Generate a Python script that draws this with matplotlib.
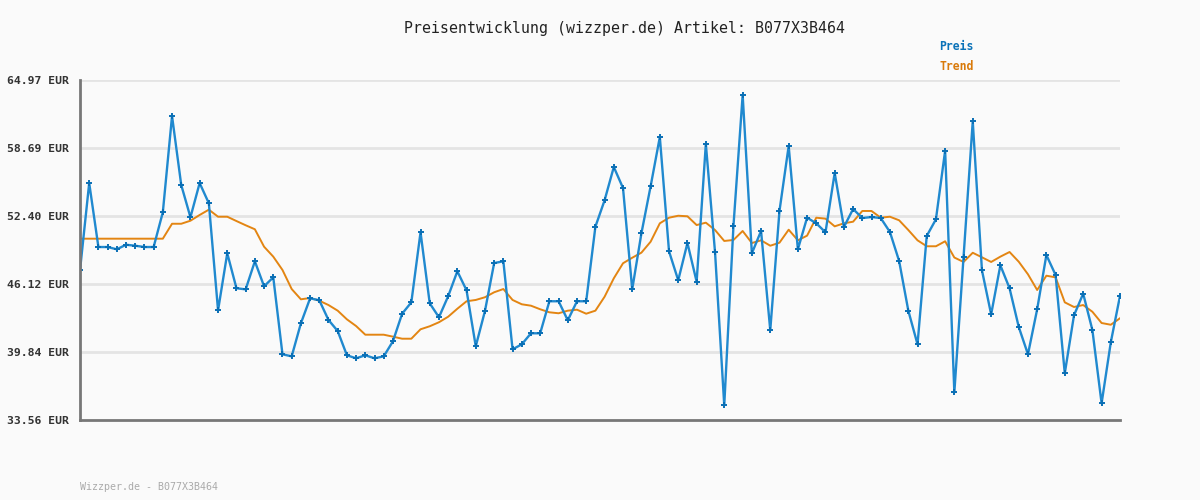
import numpy as np
import matplotlib
matplotlib.use("Agg")
import matplotlib.pyplot as plt

# Preisverlauf (EUR)
preis = [47.39, 55.45, 49.54, 49.54, 49.33, 49.75, 49.66, 49.54, 49.54, 52.75,
         61.64, 55.27, 52.29, 55.45, 53.58, 43.69, 48.96, 45.73, 45.63, 48.22,
         45.91, 46.74, 39.63, 39.44, 42.49, 44.80, 44.62, 42.80, 41.78, 39.54,
         39.26, 39.54, 39.26, 39.44, 40.83, 43.38, 44.43, 50.90, 44.34, 43.05,
         44.99, 47.30, 45.54, 40.37, 43.63, 48.06, 48.22, 40.09, 40.55, 41.57,
         41.57, 44.53, 44.53, 42.77, 44.53, 44.53, 51.42, 53.86, 56.93, 54.99,
         45.63, 50.81, 55.15, 59.70, 49.14, 46.47, 49.91, 46.34, 59.06, 49.05,
         34.92, 51.48, 63.58, 48.96, 51.02, 41.85, 52.87, 58.87, 49.33, 52.25,
         51.73, 50.90, 56.38, 51.39, 53.05, 52.22, 52.31, 52.22, 50.93, 48.25,
         43.66, 40.55, 50.56, 52.10, 58.44, 36.12, 48.60, 61.15, 47.39, 43.32,
         47.85, 45.73, 42.15, 39.63, 43.79, 48.80, 46.96, 37.87, 43.23, 45.23,
         41.87, 35.10, 40.74, 45.02]

trend = [50.31, 50.31, 50.31, 50.31, 50.31, 50.31, 50.31, 50.31, 50.31, 50.31,
         51.69, 51.69, 51.97, 52.50, 52.99, 52.34, 52.34, 51.94, 51.55, 51.18,
         49.57, 48.65, 47.42, 45.66, 44.71, 44.83, 44.58, 44.18, 43.66, 42.86,
         42.24, 41.44, 41.44, 41.44, 41.26, 41.07, 41.07, 41.94, 42.22, 42.59,
         43.10, 43.84, 44.53, 44.65, 44.90, 45.36, 45.66, 44.65, 44.25, 44.12,
         43.79, 43.51, 43.42, 43.66, 43.75, 43.38, 43.66, 44.95, 46.65, 48.04,
         48.55, 49.02, 50.03, 51.73, 52.25, 52.43, 52.38, 51.57, 51.79, 51.11,
         50.10, 50.19, 51.02, 49.91, 50.16, 49.66, 49.94, 51.14, 50.16, 50.59,
         52.25, 52.16, 51.45, 51.73, 51.88, 52.87, 52.87, 52.25, 52.34, 52.01,
         51.11, 50.16, 49.61, 49.61, 50.07, 48.57, 48.16, 49.01, 48.59, 48.16,
         48.65, 49.08, 48.18, 47.02, 45.57, 46.89, 46.74, 44.43, 44.00, 44.18,
         43.56, 42.52, 42.36, 42.96]

y_ticks = [33.56, 39.84, 46.12, 52.40, 58.69, 64.97]
y_labels = [f"{v:.2f} EUR" for v in y_ticks]

titel = "Preisentwicklung (wizzper.de) Artikel: B077X3B464"
fusszeile = "Wizzper.de - B077X3B464"

MONO = "DejaVu Sans Mono"
BG = "#fafafa"
BLAU = "#2089cf"
ORANGE = "#e38512"

fig = plt.figure(figsize=(12, 5), dpi=100, facecolor=BG)
ax = fig.add_axes([80 / 1200, 80 / 500, 1040 / 1200, 340 / 500])
ax.set_facecolor(BG)

x = np.arange(len(preis))
ax.plot(x, trend, color=ORANGE, lw=1.4, zorder=3)
ax.plot(x, preis, color=BLAU, lw=1.7, marker="+", ms=4, mew=1.4,
        mec="#0a6fb5", zorder=4)

ax.set_xlim(0, len(preis) - 1)
ax.set_ylim(y_ticks[0], y_ticks[-1])
ax.set_xticks([])
ax.set_yticks(y_ticks)
ax.set_yticklabels(y_labels, fontfamily=MONO, fontweight="bold",
                   fontsize=8.2, color="#333333")
ax.tick_params(axis="y", length=0, pad=8)
for v in y_ticks[1:]:
    ax.axhline(v, color="#e4e4e4", lw=2, zorder=1)

for s in ["top", "right"]:
    ax.spines[s].set_visible(False)
for s in ["left", "bottom"]:
    ax.spines[s].set_color("#777777")
    ax.spines[s].set_linewidth(2)
ax.spines["left"].set_zorder(5)

fig.text(624 / 1200, 1 - 28 / 500, titel, ha="center", va="center",
         fontfamily=MONO, fontsize=10.7, color="#222222")
fig.text(939 / 1200, 1 - 47 / 500, "Preis", ha="left", va="center",
         fontfamily=MONO, fontweight="bold", fontsize=8.3, color="#0a72b8")
fig.text(939 / 1200, 1 - 67 / 500, "Trend", ha="left", va="center",
         fontfamily=MONO, fontweight="bold", fontsize=8.3, color="#d97a0a")
fig.text(80 / 1200, 1 - 487 / 500, fusszeile, ha="left", va="center",
         fontfamily=MONO, fontsize=7.2, color="#aaaaaa")

fig.savefig("out.png", dpi=100, facecolor=BG)
